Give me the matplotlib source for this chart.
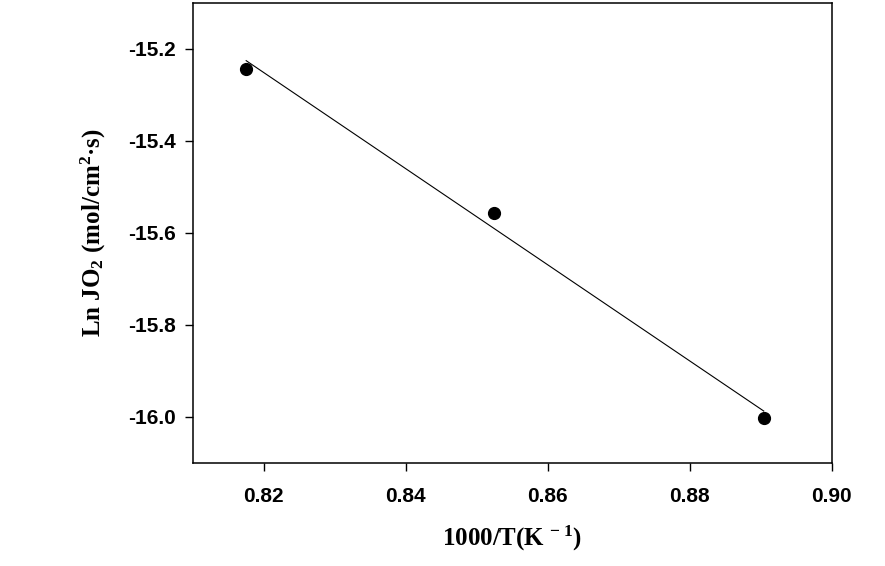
import numpy as np
from matplotlib import pyplot as plt

plt.rcParams['mathtext.fontset'] = 'custom'
plt.rcParams['mathtext.rm'] = 'Liberation Serif:bold'
plt.rcParams['mathtext.default'] = 'rm'

# 1000/T and ln of oxygen flux
invTemp = [0.8175, 0.8524, 0.8904]
lnFlux = [-15.243, -15.557, -16.003]

xTicks = [0.82, 0.84, 0.86, 0.88, 0.90]
yTicks = [-16.0, -15.8, -15.6, -15.4, -15.2]

fig = plt.figure(figsize=(8.85, 5.66), dpi=100)
ax = fig.add_axes([0.218, 0.182, 0.722, 0.813])

slope, intercept = np.polyfit(invTemp, lnFlux, 1)
fitX = np.array([min(invTemp), max(invTemp)])
ax.plot(fitX, slope * fitX + intercept, color='black', lw=0.8)
ax.plot(invTemp, lnFlux, 'o', color='black', ms=8.5)

ax.set_xlim(0.81, 0.90)
ax.set_ylim(-16.1, -15.1)
ax.set_xticks(xTicks)
ax.set_yticks(yTicks)
ax.set_xticklabels(['%.2f' % v for v in xTicks])
ax.set_yticklabels(['%.1f' % v for v in yTicks])

for lab in ax.get_xticklabels() + ax.get_yticklabels():
    lab.set_fontfamily('Liberation Sans')
    lab.set_fontweight('bold')
    lab.set_fontsize(15)

ax.tick_params(direction='out', length=6, width=1)
ax.tick_params(axis='x', pad=11.5)
ax.tick_params(axis='y', pad=6)
for sp in ax.spines.values():
    sp.set_linewidth(1.1)

ax.set_xlabel('1000/T(K$^{\\,-1}$)', fontsize=18, fontweight='bold',
              family='Liberation Serif', labelpad=13)
ax.set_ylabel('Ln JO$_2$ (mol/cm$^2$\u00b7s)', fontsize=18, fontweight='bold',
              family='Liberation Serif', labelpad=15)

fig.savefig('out.png', dpi=100)
